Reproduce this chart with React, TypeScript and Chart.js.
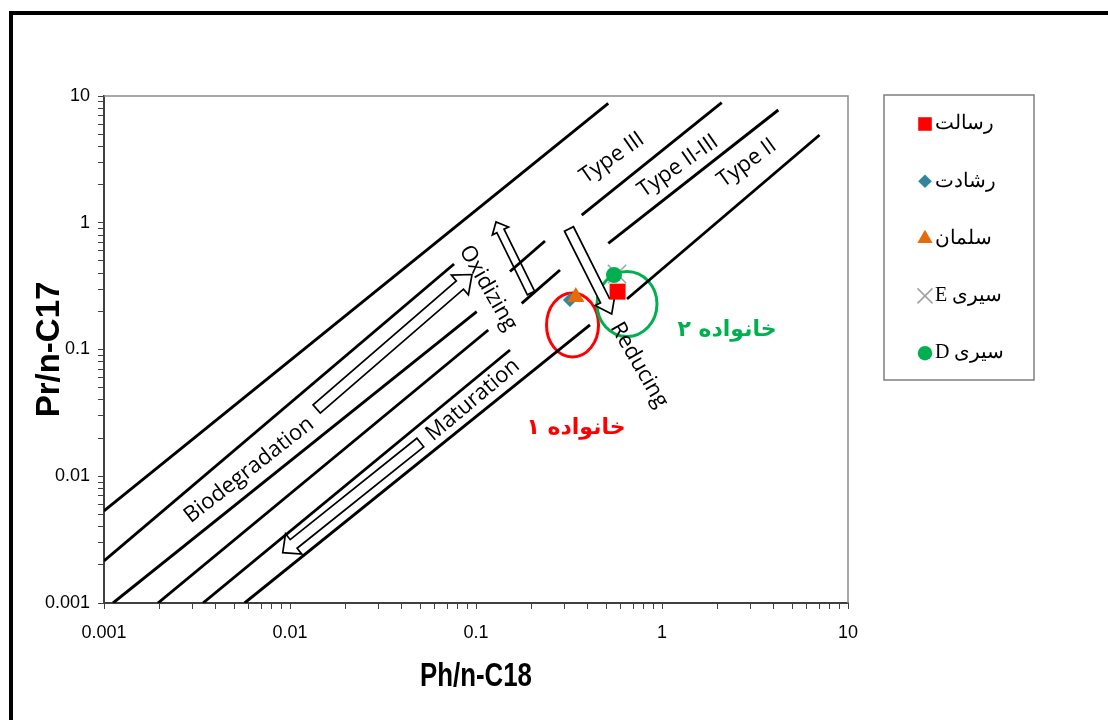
import React, { useEffect, useRef } from 'react';
import { Chart, registerables } from 'chart.js';

Chart.register(...registerables);

// ---------- axis ticks ----------
const xMajorTicks = [0.001, 0.01, 0.1, 1, 10];
const xTickLabels = ['0.001', '0.01', '0.1', '1', '10'];
const yMajorTicks = [0.001, 0.01, 0.1, 1, 10];
const yTickLabels = ['0.001', '0.01', '0.1', '1', '10'];
const minorMultipliers = [2, 3, 4, 5, 6, 7, 8, 9];
const xAxisTitle = 'Ph/n-C18';
const yAxisTitle = 'Pr/n-C17';

// ---------- samples ----------
const sampleNames = ['رسالت', 'رشادت', 'سلمان', 'سیری E', 'سیری D'];
const samplePh = [0.577, 0.32, 0.344, 0.573, 0.552];
const samplePr = [0.286, 0.246, 0.26, 0.394, 0.387];

// ---------- boundary line segments (Ph/n-C18, Pr/n-C17) ----------
const segStartPh = [0.001, 0.001, 0.001118, 0.00195, 0.003405, 0.0057, 0.1523, 0.1761, 0.3701, 0.5144, 0.6482];
const segStartPr = [0.00533, 0.002145, 0.001, 0.001, 0.001, 0.001, 0.4124, 0.2315, 1.151, 0.6884, 0.2503];
const segEndPh = [0.514, 0.0762, 0.1009, 0.1164, 0.1523, 0.4101, 0.235, 0.2829, 2.094, 4.22, 7.029];
const segEndPr = [8.76, 0.4728, 0.1987, 0.1425, 0.0991, 0.1561, 0.7178, 0.4239, 8.855, 7.753, 4.924];

// ---------- process arrows ----------
const arrowTailPh = [0.01391, 0.1975, 0.3162, 0.05018];
const arrowTailPr = [0.03393, 0.2791, 0.8927, 0.01846];
const arrowTipPh = [0.09517, 0.1281, 0.5366, 0.00914];
const arrowTipPr = [0.3905, 1.0137, 0.1906, 0.002493];

// ---------- diagram labels ----------
const labelTexts = ['Biodegradation', 'Maturation', 'Oxidizing', 'Reducing', 'Type III', 'Type II-III', 'Type II'];
const labelPh = [0.00602, 0.09636, 0.116, 0.752, 0.5386, 1.219, 2.864];
const labelPr = [0.0112, 0.03996, 0.3056, 0.07544, 3.242, 2.803, 2.96];
const labelAngles = [-38, -40, 60, 60, -35, -35, -36];

// ---------- family groups ----------
const groupTexts = ['خانواده ۱', 'خانواده ۲'];
const groupTextPh = [0.3448, 2.236];
const groupTextPr = [0.02403, 0.1425];
const groupEllipsePh = [0.3303, 0.6482];
const groupEllipsePr = [0.1561, 0.2286];

// ---------- styles ----------
const sampleColors = ['#ff0000', '#31859c', '#e46c0a', '#a0a0a0', '#00b050'];
const sampleStyles = ['rect', 'rectRot', 'triangle', 'crossRot', 'circle'];
const sampleRadius = [11.3, 7, 10, 13, 8];
const legendRadius = [9.6, 6.8, 8.8, 10.6, 7.2];
const groupColors = ['#ff0000', '#00b050'];
const ellipseRx = [26, 30];
const ellipseRy = [32, 32.5];
const arrowShaft = [11, 8, 10, 11];
const arrowHeadW = [26, 18, 22, 26];
const arrowHeadL = [16, 10, 15, 14];

const W = 1108;
const H = 720;
const TICK_FONT = '"Liberation Sans", Arial, sans-serif';

const buildLogTicks = (majors: number[]) => {
  const out: number[] = [];
  majors.forEach((m, i) => {
    out.push(m);
    if (i < majors.length - 1) minorMultipliers.forEach((k) => out.push(+(m * k).toPrecision(6)));
  });
  return out;
};

const labelFor = (values: number[], labels: string[]) => (v: any) => {
  const n = Number(v);
  const i = values.findIndex((m) => Math.abs(Math.log10(m) - Math.log10(n)) < 1e-6);
  return i >= 0 ? labels[i] : '';
};

function drawMarker(ctx: CanvasRenderingContext2D, style: string, x: number, y: number, r: number, color: string) {
  ctx.save();
  ctx.fillStyle = color;
  ctx.strokeStyle = color;
  ctx.beginPath();
  if (style === 'rect') {
    const s = r * Math.SQRT1_2;
    ctx.rect(x - s, y - s, 2 * s, 2 * s);
    ctx.fill();
  } else if (style === 'rectRot') {
    ctx.moveTo(x, y - r);
    ctx.lineTo(x + r, y);
    ctx.lineTo(x, y + r);
    ctx.lineTo(x - r, y);
    ctx.closePath();
    ctx.fill();
  } else if (style === 'triangle') {
    const a = (Math.PI * 2) / 3;
    for (let k = 0; k < 3; k++) {
      const px = x + Math.sin(k * a) * r;
      const py = y - Math.cos(k * a) * r;
      if (k === 0) ctx.moveTo(px, py);
      else ctx.lineTo(px, py);
    }
    ctx.closePath();
    ctx.fill();
  } else if (style === 'crossRot') {
    const d = r * Math.SQRT1_2;
    ctx.lineWidth = 1.5;
    ctx.moveTo(x - d, y - d);
    ctx.lineTo(x + d, y + d);
    ctx.moveTo(x + d, y - d);
    ctx.lineTo(x - d, y + d);
    ctx.stroke();
  } else {
    ctx.arc(x, y, r, 0, Math.PI * 2);
    ctx.fill();
  }
  ctx.restore();
}

function drawBlockArrow(ctx: CanvasRenderingContext2D, tx: number, ty: number, px: number, py: number, sw: number, hw: number, hl: number) {
  const dx = px - tx;
  const dy = py - ty;
  const len = Math.hypot(dx, dy);
  const ux = dx / len;
  const uy = dy / len;
  const nx = -uy;
  const ny = ux;
  const bx = px - ux * hl;
  const by = py - uy * hl;
  const pts = [
    [tx + (nx * sw) / 2, ty + (ny * sw) / 2],
    [bx + (nx * sw) / 2, by + (ny * sw) / 2],
    [bx + (nx * hw) / 2, by + (ny * hw) / 2],
    [px, py],
    [bx - (nx * hw) / 2, by - (ny * hw) / 2],
    [bx - (nx * sw) / 2, by - (ny * sw) / 2],
    [tx - (nx * sw) / 2, ty - (ny * sw) / 2],
  ];
  ctx.beginPath();
  pts.forEach(([x, y], i) => (i ? ctx.lineTo(x, y) : ctx.moveTo(x, y)));
  ctx.closePath();
  ctx.fillStyle = '#ffffff';
  ctx.fill();
  ctx.lineWidth = 1.7;
  ctx.strokeStyle = '#000000';
  ctx.lineJoin = 'miter';
  ctx.stroke();
}

const annotationPlugin = {
  id: 'peterAnnotations',
  beforeDatasetsDraw(chart: any) {
    const { ctx, scales } = chart;
    const X = (v: number) => scales.x.getPixelForValue(v);
    const Y = (v: number) => scales.y.getPixelForValue(v);
    ctx.save();
    groupEllipsePh.forEach((ph, i) => {
      ctx.beginPath();
      ctx.ellipse(X(ph), Y(groupEllipsePr[i]), ellipseRx[i], ellipseRy[i], 0, 0, Math.PI * 2);
      ctx.lineWidth = 3;
      ctx.strokeStyle = groupColors[i];
      ctx.stroke();
    });
    arrowTailPh.forEach((ph, i) => {
      drawBlockArrow(ctx, X(ph), Y(arrowTailPr[i]), X(arrowTipPh[i]), Y(arrowTipPr[i]), arrowShaft[i], arrowHeadW[i], arrowHeadL[i]);
    });
    labelTexts.forEach((t, i) => {
      ctx.save();
      ctx.translate(X(labelPh[i]), Y(labelPr[i]));
      ctx.rotate((labelAngles[i] * Math.PI) / 180);
      ctx.font = '22px "Open Sans", "DejaVu Sans", sans-serif';
      ctx.fillStyle = '#000';
      ctx.textAlign = 'center';
      ctx.textBaseline = 'middle';
      ctx.fillText(t, 0, 0);
      ctx.restore();
    });
    groupTexts.forEach((t, i) => {
      ctx.save();
      ctx.font = 'bold 22px "DejaVu Sans", sans-serif';
      ctx.fillStyle = groupColors[i];
      ctx.textAlign = 'center';
      ctx.textBaseline = 'middle';
      (ctx as any).direction = 'rtl';
      ctx.fillText(t, X(groupTextPh[i]), Y(groupTextPr[i]));
      ctx.restore();
    });
    ctx.restore();
  },
};

const framePlugin = {
  id: 'frames',
  afterDraw(chart: any) {
    const { ctx, chartArea } = chart;
    ctx.save();
    // plot top & right border
    ctx.strokeStyle = '#8c8c8c';
    ctx.lineWidth = 1.5;
    ctx.beginPath();
    ctx.moveTo(chartArea.left, chartArea.top);
    ctx.lineTo(chartArea.right, chartArea.top);
    ctx.lineTo(chartArea.right, chartArea.bottom);
    ctx.stroke();
    // x axis title (narrow bold)
    ctx.save();
    ctx.translate((chartArea.left + chartArea.right) / 2, 677);
    ctx.scale(0.76, 1);
    ctx.font = 'bold 34px "Liberation Sans", Arial, sans-serif';
    ctx.fillStyle = '#000';
    ctx.textAlign = 'center';
    ctx.textBaseline = 'middle';
    ctx.fillText(xAxisTitle, 0, 0);
    ctx.restore();
    // outer frame
    ctx.strokeStyle = '#000';
    ctx.lineWidth = 4;
    ctx.strokeRect(11, 13, W + 40, H + 40);
    // legend
    const lx = 884;
    const ly = 95;
    ctx.strokeStyle = '#7f7f7f';
    ctx.lineWidth = 1.5;
    ctx.strokeRect(lx, ly, 150, 285);
    const items = chart.data.datasets.filter((d: any) => d.isSample);
    items.forEach((d: any, i: number) => {
      const cy = 124 + i * 57.3;
      drawMarker(ctx, d.pointStyle, 925, cy, d.legendRadius, d.legendColor);
      ctx.save();
      ctx.font = '20px "Liberation Serif", "Times New Roman", serif';
      ctx.fillStyle = '#000';
      ctx.textAlign = 'left';
      ctx.textBaseline = 'middle';
      (ctx as any).direction = 'rtl';
      ctx.fillText(d.label, 935, cy);
      ctx.restore();
    });
    ctx.restore();
  },
};

export default function App() {
  const ref = useRef<HTMLCanvasElement>(null);
  useEffect(() => {
    const lineSets = segStartPh.map((_, i) => ({
      label: 'boundary-' + i,
      data: [
        { x: segStartPh[i], y: segStartPr[i] },
        { x: segEndPh[i], y: segEndPr[i] },
      ],
      showLine: true,
      borderColor: '#000000',
      borderWidth: 2.9,
      pointRadius: 0,
      pointHoverRadius: 0,
      order: 10,
    }));
    const sampleSets = sampleNames.map((name, i) => ({
      label: name,
      isSample: true,
      data: [{ x: samplePh[i], y: samplePr[i] }],
      showLine: false,
      pointStyle: sampleStyles[i],
      pointRadius: sampleRadius[i],
      pointHoverRadius: sampleRadius[i],
      backgroundColor: sampleColors[i],
      borderColor: sampleColors[i],
      borderWidth: sampleStyles[i] === 'crossRot' ? 1.5 : 0,
      legendRadius: legendRadius[i],
      legendColor: sampleColors[i],
      order: 5 - i,
    }));
    const xTicks = buildLogTicks(xMajorTicks);
    const yTicks = buildLogTicks(yMajorTicks);
    const chart = new Chart(ref.current as HTMLCanvasElement, {
      type: 'scatter',
      data: { datasets: [...lineSets, ...sampleSets] as any },
      options: {
        animation: false,
        responsive: false,
        devicePixelRatio: 1,
        layout: { padding: { left: 0, top: 96, right: W - 848, bottom: 0 } },
        scales: {
          x: {
            type: 'logarithmic',
            min: 0.001,
            max: 10,
            afterBuildTicks: (s: any) => {
              s.ticks = xTicks.map((v) => ({ value: v }));
            },
            afterFit: (s: any) => {
              s.height = H - 603;
            },
            ticks: {
              autoSkip: false,
              maxRotation: 0,
              minRotation: 0,
              padding: 13,
              color: '#000',
              font: { family: TICK_FONT, size: 18 },
              callback: labelFor(xMajorTicks, xTickLabels),
            },
            grid: { display: true, drawOnChartArea: false, drawTicks: true, tickLength: 6, color: '#404040', lineWidth: 1 },
            border: { display: true, color: '#404040', width: 2 },
            title: { display: false, text: xAxisTitle },
          },
          y: {
            type: 'logarithmic',
            min: 0.001,
            max: 10,
            afterBuildTicks: (s: any) => {
              s.ticks = yTicks.map((v) => ({ value: v }));
            },
            afterFit: (s: any) => {
              s.width = 104;
            },
            ticks: {
              autoSkip: false,
              padding: 8,
              color: '#000',
              font: { family: TICK_FONT, size: 18 },
              callback: labelFor(yMajorTicks, yTickLabels),
            },
            grid: { display: true, drawOnChartArea: false, drawTicks: true, tickLength: 6, color: '#404040', lineWidth: 1 },
            border: { display: true, color: '#404040', width: 2 },
            title: {
              display: true,
              text: yAxisTitle,
              color: '#000',
              font: { family: TICK_FONT, size: 33, weight: 'bold' },
              padding: { top: 30, bottom: 0 },
            },
          },
        },
        plugins: { legend: { display: false }, tooltip: { enabled: false } },
      } as any,
      plugins: [annotationPlugin, framePlugin],
    });
    return () => chart.destroy();
  }, []);
  return (
    <div style={{ position: 'absolute', left: 0, top: 0, width: W, height: H, background: '#ffffff' }}>
      <canvas ref={ref} width={W} height={H} style={{ display: 'block', width: W, height: H }} />
    </div>
  );
}
